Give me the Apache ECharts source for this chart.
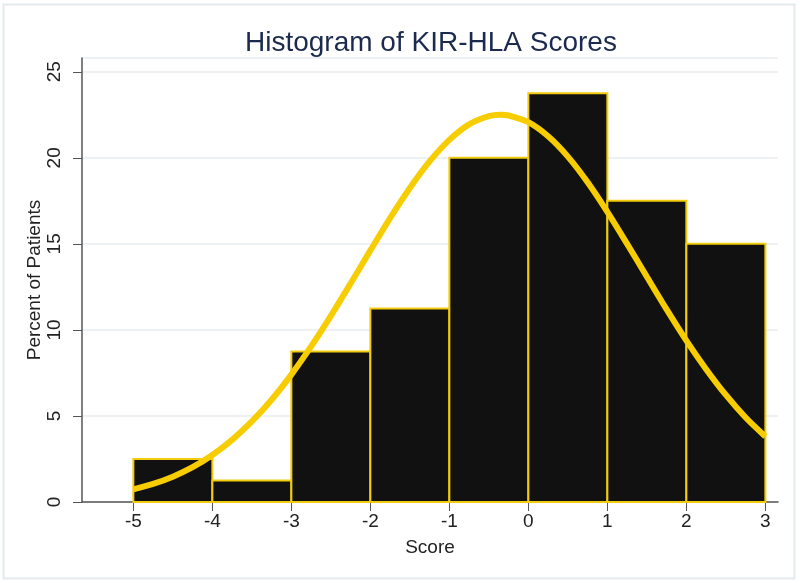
<!DOCTYPE html>
<html>
<head>
<meta charset="utf-8">
<title>Histogram of KIR-HLA Scores</title>
<script src="https://cdn.jsdelivr.net/npm/echarts@6/dist/echarts.min.js"></script>
<style>
html, body { margin: 0; padding: 0; background: #fff; }
#chart { width: 800px; height: 583px; }
</style>
</head>
<body>
<div id="chart"></div>
<script>
// histogram bins: [start, end] and percent of patients
var binStarts = [-5, -4, -3, -2, -1, 0, 1, 2];
var binEnds = [-4, -3, -2, -1, 0, 1, 2, 3];
var percents = [2.5, 1.25, 8.75, 11.25, 20, 23.75, 17.5, 15];

// normal curve
var curveX = [-5, -4.75, -4.5, -4.25, -4, -3.75, -3.5, -3.25, -3, -2.75, -2.5, -2.25, -2, -1.75, -1.5, -1.25,
    -1, -0.75, -0.5, -0.35, -0.25, 0, 0.25, 0.5, 0.75, 1, 1.25, 1.5, 1.75, 2, 2.25, 2.5, 2.75, 3];
var curveY = [0.73, 1.05, 1.47, 2.02, 2.73, 3.61, 4.68, 5.94, 7.4, 9.04, 10.82, 12.7, 14.62, 16.5, 18.25, 19.79,
    21.04, 21.94, 22.42, 22.5, 22.46, 22.07, 21.25, 20.07, 18.58, 16.86, 15.0, 13.09, 11.19, 9.38, 7.72, 6.22, 4.91, 3.81];

var xTicks = [-5, -4, -3, -2, -1, 0, 1, 2, 3];

var histData = binStarts.map(function (s, i) { return [s, binEnds[i], percents[i]]; });
var curveData = curveX.map(function (x, i) { return [x, curveY[i]]; });

var font = 'Liberation Sans, Arial, sans-serif';
var myChart = echarts.init(document.getElementById('chart'));
var option = {
    backgroundColor: '#ffffff',
    animation: false,
    title: {
        text: 'Histogram of KIR-HLA Scores',
        left: 240,
        top: 24,
        textStyle: { fontFamily: font, fontSize: 28, fontWeight: 'normal', color: '#1b2a4e' }
    },
    graphic: [{
        type: 'rect',
        shape: { x: 3.5, y: 4.5, width: 791, height: 574 },
        style: { fill: 'none', stroke: '#e3e9ec', lineWidth: 2 },
        silent: true
    }],
    grid: { left: 82, right: 22, top: 58, bottom: 81 },
    xAxis: {
        type: 'value',
        min: -5.65,
        max: 3.16,
        name: 'Score',
        nameLocation: 'middle',
        nameGap: 36,
        nameMoveOverlap: false,
        nameTextStyle: { fontFamily: font, fontSize: 19, color: '#222' },
        splitLine: { show: false },
        axisLine: { show: true, onZero: false, lineStyle: { color: '#555', width: 1.5 } },
        axisTick: { show: true, length: 9, customValues: xTicks, lineStyle: { color: '#555' } },
        axisLabel: { customValues: xTicks, margin: 10, fontFamily: font, fontSize: 19, color: '#222' }
    },
    yAxis: {
        type: 'value',
        min: 0,
        max: 25.8,
        interval: 5,
        name: 'Percent of Patients',
        nameLocation: 'middle',
        nameGap: 38,
        nameMoveOverlap: false,
        nameTextStyle: { fontFamily: font, fontSize: 19, color: '#222' },
        splitLine: { show: true, lineStyle: { color: '#e8ecef', width: 1.5 } },
        axisLine: { show: true, onZero: false, lineStyle: { color: '#555', width: 1.5 } },
        axisTick: { show: true, length: 9, lineStyle: { color: '#555' } },
        axisLabel: {
            rotate: 90,
            margin: 18,
            showMaxLabel: false,
            fontFamily: font,
            fontSize: 19,
            color: '#222'
        }
    },
    series: [
        {
            type: 'custom',
            name: 'Percent',
            data: histData,
            encode: { x: [0, 1], y: 2 },
            renderItem: function (params, api) {
                var p0 = api.coord([api.value(0), 0]);
                var p1 = api.coord([api.value(1), api.value(2)]);
                return {
                    type: 'rect',
                    shape: { x: p0[0], y: p1[1], width: p1[0] - p0[0], height: p0[1] - p1[1] },
                    style: { fill: '#111111', stroke: '#f2cc0c', lineWidth: 2 }
                };
            },
            z: 2
        },
        {
            type: 'line',
            name: 'Normal',
            data: curveData,
            smooth: 0.3,
            showSymbol: false,
            lineStyle: { color: '#f7cd00', width: 6 },
            z: 3
        }
    ]
};
myChart.setOption(option);
</script>
</body>
</html>
